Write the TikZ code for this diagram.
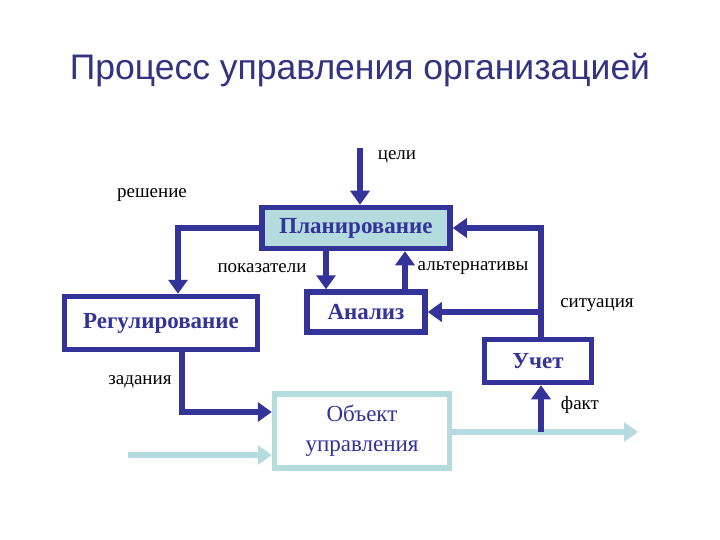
\documentclass[tikz,border=0pt]{standalone}
\usepackage{fontspec}
\setmainfont{Liberation Serif}
\newfontfamily\titlefont{Liberation Sans}
\usetikzlibrary{arrows.meta}
\definecolor{navy}{HTML}{333399}
\definecolor{lblue}{HTML}{B4DCDF}
\definecolor{ttl}{HTML}{333380}
\begin{document}
\begin{tikzpicture}[x=1pt,y=-1pt,
  box/.style={draw=navy,line width=5.5pt,inner sep=0pt,font=\bfseries\fontsize{23}{25}\selectfont,text=navy},
  lbl/.style={font=\fontsize{19}{21}\selectfont,inner sep=0pt},
  con/.style={navy,line width=5.5pt,-{Triangle[length=14pt,width=19pt]}},
  lcon/.style={lblue,line width=5.5pt,-{Triangle[length=14pt,width=19pt]}}]
\useasboundingbox[fill=white] (0,0) rectangle (720,540);
\node[font=\titlefont\fontsize{35.5}{40}\selectfont,text=ttl] (title) at (360,70) {Процесс управления организацией};
\node[box,fill=lblue,minimum width=188pt,minimum height=41pt] (plan) at (356,228) {Планирование};
\node[box,fill=white,minimum width=118pt,minimum height=40pt] (an) at (366,312) {Анализ};
\node[box,fill=white,minimum width=193pt,minimum height=53pt] (reg) at (161,323) {Регулирование};
\node[box,fill=white,minimum width=107pt,minimum height=43pt] (uch) at (538,361) {Учет};
\node[box,draw=lblue,fill=white,font=\fontsize{23}{30}\selectfont,align=center,minimum width=175pt,minimum height=74pt] (obj) at (362,431) {Объект\\управления};
\coordinate (g) at (360,148);
\coordinate (lin) at (128,455);
\coordinate (lout) at (638,432);
\draw[con] (g) -- (g |- plan.north);
\draw[con] (plan.west) -| (reg.north -| 178,0);
\draw[con] (plan.south -| 326,0) -- (an.north -| 326,0);
\draw[con] (an.north -| 405,0) -- (plan.south -| 405,0);
\draw[con] (uch.north -| 541,0) |- (plan.east);
\draw[con] (an.east -| 541,0) -- (an.east);
\draw[con] (reg.south -| 182,0) |- (obj.west |- 0,412);
\draw[lcon] (lin) -- (obj.west |- lin);
\draw[lcon] (obj.east |- lout) -- (lout);
\draw[con] (541,432) -- (uch.south -| 541,0);
\node[lbl] (l1) at (397,157) {цели};
\node[lbl] (l2) at (152,195) {решение};
\node[lbl] (l3) at (262,268) {показатели};
\node[lbl] (l4) at (473,268) {альтернативы};
\node[lbl] (l5) at (597,305) {ситуация};
\node[lbl] (l6) at (140,382) {задания};
\node[lbl] (l7) at (580,405) {факт};
\end{tikzpicture}
\end{document}
